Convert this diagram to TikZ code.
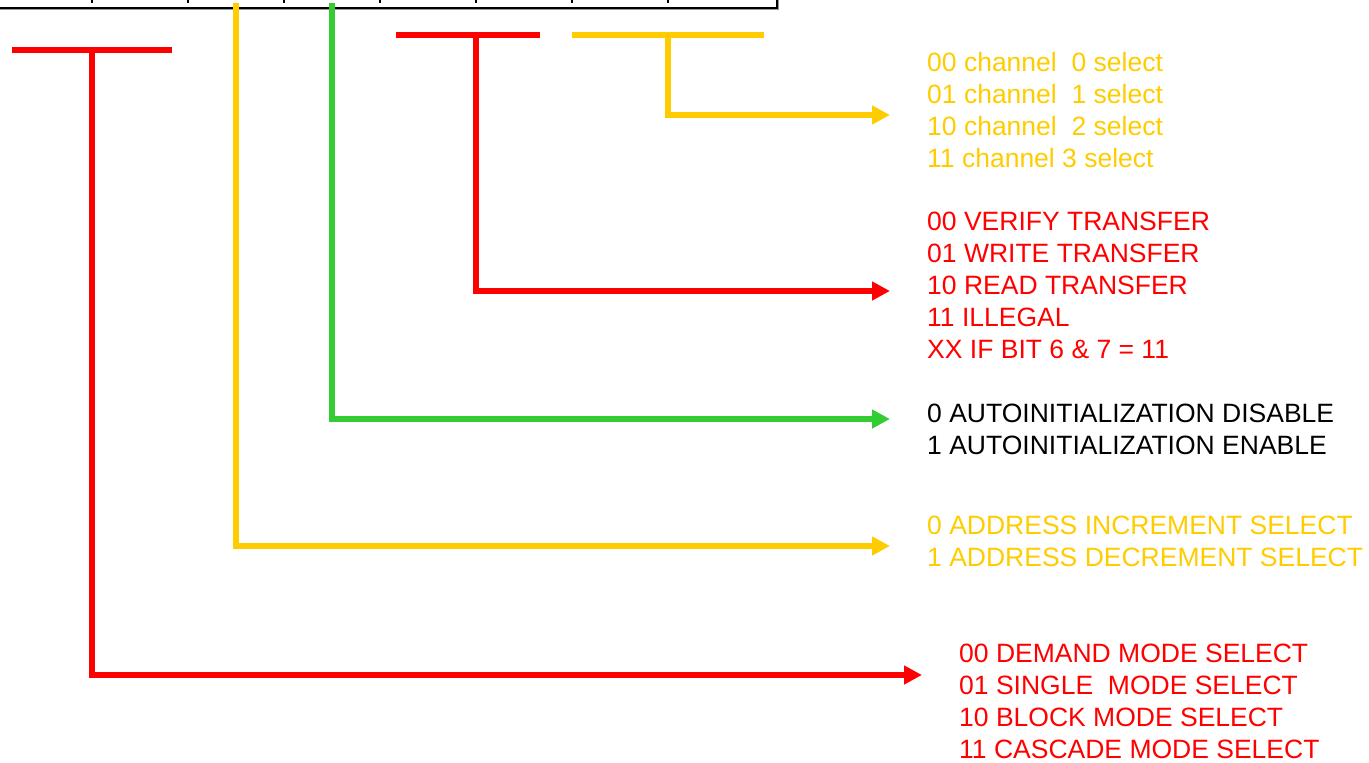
\documentclass[tikz,border=0pt]{standalone}
\usepackage{fontspec}
\setmainfont{Liberation Sans}
\usetikzlibrary{arrows.meta,shadows}
\definecolor{cyel}{HTML}{FFCC00}
\definecolor{cred}{HTML}{FF0000}
\definecolor{cgrn}{HTML}{33CC33}
\tikzset{
  wire/.style={line width=6pt},
  arr/.style={wire,-{Triangle[length=18pt,width=18pt]}},
  lbl/.style={anchor=north west,inner sep=0pt,align=left,
    font=\fontsize{26.5}{32}\selectfont},
  divider/.style={line width=1.5pt,black}
}
\begin{document}
\begin{tikzpicture}[x=1pt,y=-1pt]
\useasboundingbox (0,0) rectangle (1369,763);
% register box
\node[draw,line width=2.5pt,fill=white,minimum width=798pt,minimum height=68pt,
  inner sep=0pt,drop shadow={shadow xshift=1.8pt,shadow yshift=-1.8pt,fill=gray!80,opacity=1}]
  (reg) at (378,-26) {};
\foreach \x in {92,188,284,380,476,572,668}
  \draw[divider] (\x,-60) -- (\x,3);
% coordinates
\coordinate (r1l) at (12,50);   \coordinate (r1r) at (172,50);
\coordinate (r1t) at (92,50);   \coordinate (r1c) at (92,675);
\coordinate (r1e) at (922,675);
\coordinate (y5t) at (236,3);   \coordinate (y5c) at (236,546);
\coordinate (y5e) at (890,546);
\coordinate (g4t) at (332,3);   \coordinate (g4c) at (332,419);
\coordinate (g4e) at (890,419);
\coordinate (r2l) at (396,35);  \coordinate (r2r) at (540,35);
\coordinate (r2t) at (476,35);  \coordinate (r2c) at (476,291);
\coordinate (r2e) at (890,291);
\coordinate (y1l) at (572,35);  \coordinate (y1r) at (764,35);
\coordinate (y1t) at (668,35);  \coordinate (y1c) at (668,115);
\coordinate (y1e) at (890,115);
% wires
\draw[wire,cred] (r1l) -- (r1r);
\draw[arr,cred] (r1t) -- (r1c) -- (r1e);
\draw[arr,cyel] (y5t) -- (y5c) -- (y5e);
\draw[arr,cgrn] (g4t) -- (g4c) -- (g4e);
\draw[wire,cred] (r2l) -- (r2r);
\draw[arr,cred] (r2t) -- (r2c) -- (r2e);
\draw[wire,cyel] (y1l) -- (y1r);
\draw[arr,cyel] (y1t) -- (y1c) -- (y1e);
% labels
\node[lbl,text=cyel] (chan) at (927,49.1) {\strut 00 channel\ \ 0 select\\01 channel\ \ 1 select\\10 channel\ \ 2 select\\11 channel 3 select};
\node[lbl,text=cred] (xfer) at (927,208.1) {\strut 00 VERIFY TRANSFER\\01 WRITE TRANSFER\\10 READ TRANSFER\\11 ILLEGAL\\XX IF BIT 6 \& 7 = 11};
\node[lbl,text=black] (auto) at (927,400.1) {\strut 0 AUTOINITIALIZATION DISABLE\\1 AUTOINITIALIZATION ENABLE};
\node[lbl,text=cyel] (addr) at (927,512.1) {\strut 0 ADDRESS INCREMENT SELECT\\1 ADDRESS DECREMENT SELECT};
\node[lbl,text=cred] (mode) at (959,640.1) {\strut 00 DEMAND MODE SELECT\\01 SINGLE\ \ MODE SELECT\\10 BLOCK MODE SELECT\\11 CASCADE MODE SELECT};
\end{tikzpicture}
\end{document}
